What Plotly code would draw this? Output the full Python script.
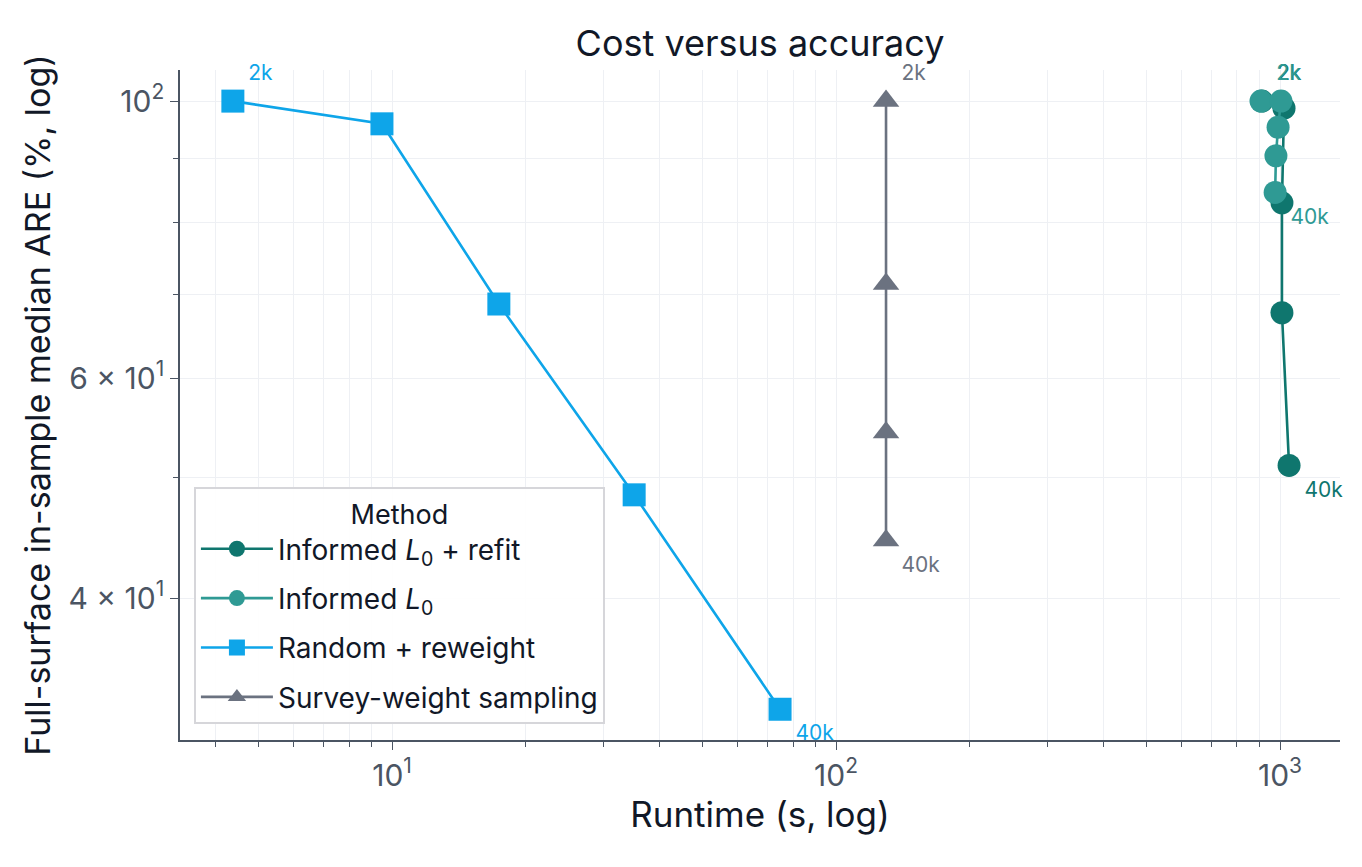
import plotly.graph_objects as go

# ---- data ----
refit_runtime = [910, 1021, 1010, 1010, 1048]
refit_are = [100.0, 98.7, 82.9, 67.7, 51.1]
refit_labels = ["2k", "", "", "", "40k"]

l0_runtime = [906, 1005, 990, 979, 975]
l0_are = [100.0, 100.0, 95.3, 90.4, 84.5]
l0_labels = ["2k", "", "", "", "40k"]

rand_runtime = [4.38, 9.49, 17.4, 35.1, 74.8]
rand_are = [100.0, 95.9, 68.8, 48.4, 32.6]
rand_labels = ["2k", "", "", "", "40k"]

survey_runtime = [129.6, 129.6, 129.6, 129.6]
survey_are = [100.0, 71.4, 54.3, 44.5]
survey_labels = ["2k", "", "", "40k"]

x_major = [10, 100, 1000]
x_major_text = ["10<sup>1</sup>", "10<sup>2</sup>", "10<sup>3</sup>"]
x_minor = [4, 5, 6, 7, 8, 9, 20, 30, 40, 50, 60, 70, 80, 90,
           200, 300, 400, 500, 600, 700, 800, 900]
y_major = [40, 60, 100]
y_major_text = ["4 × 10<sup>1</sup>", "6 × 10<sup>1</sup>", "10<sup>2</sup>"]
y_minor = [50, 70, 80, 90]

series = [
    ("Informed <i>L</i><sub>0</sub> + refit", refit_runtime, refit_are, refit_labels, "#0f766e", "circle"),
    ("Informed <i>L</i><sub>0</sub>", l0_runtime, l0_are, l0_labels, "#2f9a94", "circle"),
    ("Random + reweight", rand_runtime, rand_are, rand_labels, "#0ea5e9", "square"),
    ("Survey-weight sampling", survey_runtime, survey_are, survey_labels, "#6b7280", "triangle-up"),
]

fig = go.Figure()
for i, (name, xs, ys, labs, col, sym) in enumerate(series):
    pos = ["top right" if l == "2k" else "bottom right" for l in labs]
    fig.add_trace(go.Scatter(
        x=xs, y=ys, name=name, mode="lines+markers+text",
        text=labs, textposition=pos,
        textfont=dict(size=21, color=col, family="Inter"),
        line=dict(color=col, width=2.6),
        marker=dict(color=col, size=23, symbol=sym),
        legendgroup=f"g{i}", cliponaxis=False,
    ))

axis_col = "#4b5563"
grid_col = "#eef0f4"
W, H = 1354, 859

fig.update_layout(
    width=W, height=H,
    margin=dict(l=172, r=W - 172 - 1160, t=62, b=H - 62 - 670),
    paper_bgcolor="white", plot_bgcolor="white",
    font=dict(family="Inter", color="#1f2937"),
    title=dict(text="Cost versus accuracy", x=0.5, xref="paper",
               y=1 - 35 / H, yref="container", yanchor="middle",
               font=dict(size=36, color="#111827")),
    showlegend=True,
    legend=dict(
        x=0.012, y=0.024, xanchor="left", yanchor="bottom",
        bgcolor="rgba(255,255,255,0.9)", bordercolor="#d6d6da", borderwidth=2,
        font=dict(size=28, color="#111827"),
        title=dict(text="Method", side="top center",
                   font=dict(size=27, color="#111827")),
        traceorder="grouped", tracegroupgap=10,
        itemwidth=72,
    ),
)

fig.update_xaxes(
    type="log", range=[0.5224, 3.1351],
    tickmode="array", tickvals=x_major, ticktext=x_major_text,
    showline=True, linecolor=axis_col, linewidth=1.5,
    ticks="outside", ticklen=8, tickcolor=axis_col, tickwidth=1.2,
    tickfont=dict(size=30, color=axis_col),
    showgrid=True, gridcolor=grid_col, gridwidth=1,
    minor=dict(tickmode="array", tickvals=x_minor, ticks="outside", ticklen=5,
               tickcolor=axis_col, tickwidth=1, showgrid=True, gridcolor=grid_col),
    zeroline=False, mirror=False,
    title=dict(text="Runtime (s, log)", font=dict(size=35, color="#111827"), standoff=10),
)
fig.update_yaxes(
    type="log", range=[1.4886, 2.0249],
    tickmode="array", tickvals=y_major, ticktext=y_major_text,
    showline=True, linecolor=axis_col, linewidth=1.5,
    ticks="outside", ticklen=8, tickcolor=axis_col, tickwidth=1.2,
    tickfont=dict(size=30, color=axis_col),
    showgrid=True, gridcolor=grid_col, gridwidth=1,
    minor=dict(tickmode="array", tickvals=y_minor, ticks="outside", ticklen=5,
               tickcolor=axis_col, tickwidth=1, showgrid=True, gridcolor=grid_col),
    zeroline=False, mirror=False,
    title=dict(text="Full-surface in-sample median ARE (%, log)",
               font=dict(size=34, color="#111827"), standoff=8),
)

fig.write_html("out.html")
